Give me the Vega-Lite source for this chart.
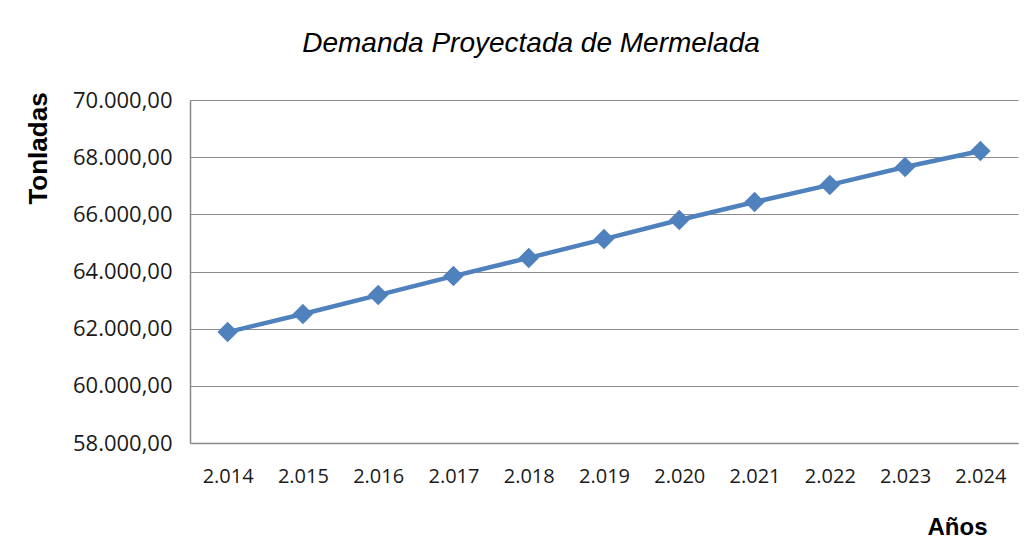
{
  "$schema": "https://vega.github.io/schema/vega-lite/v6.json",
  "width": 828,
  "height": 343,
  "autosize": "none",
  "padding": {"left": 190, "top": 100, "right": 15, "bottom": 111},
  "background": "white",
  "config": {
    "locale": {"number": {"decimal": ",", "thousands": ".", "grouping": [3], "currency": ["$", ""]}},
    "view": {"stroke": null}
  },
  "title": {
    "text": "Demanda Proyectada de Mermelada",
    "font": "Liberation Sans",
    "fontSize": 28,
    "fontStyle": "italic",
    "fontWeight": "normal",
    "color": "#000000",
    "anchor": "middle",
    "frame": "group",
    "dx": -73,
    "offset": 31
  },
  "data": {
    "values": [
      {"anio": "2.014", "toneladas": 61880},
      {"anio": "2.015", "toneladas": 62515},
      {"anio": "2.016", "toneladas": 63175},
      {"anio": "2.017", "toneladas": 63840},
      {"anio": "2.018", "toneladas": 64475},
      {"anio": "2.019", "toneladas": 65135},
      {"anio": "2.020", "toneladas": 65800},
      {"anio": "2.021", "toneladas": 66430},
      {"anio": "2.022", "toneladas": 67030},
      {"anio": "2.023", "toneladas": 67655},
      {"anio": "2.024", "toneladas": 68215}
    ]
  },
  "encoding": {
    "x": {
      "field": "anio",
      "type": "ordinal",
      "sort": null,
      "scale": {"paddingInner": 0, "paddingOuter": 0.5},
      "axis": {
        "title": "Años",
        "titleFont": "Liberation Sans",
        "titleFontSize": 24,
        "titleFontWeight": "bold",
        "titleColor": "#000000",
        "titleAnchor": null,
        "titleAlign": "center",
        "titleBaseline": "middle",
        "titleX": 767,
        "titleY": 84,
        "labelAngle": 0,
        "labelFont": "Open Sans",
        "labelFontSize": 20,
        "labelColor": "#1a1a1a",
        "labelPadding": 23,
        "ticks": false,
        "domainColor": "#888888",
        "domainWidth": 1.5,
        "grid": false
      }
    },
    "y": {
      "field": "toneladas",
      "type": "quantitative",
      "scale": {"domain": [58000, 70000], "nice": false, "zero": false},
      "axis": {
        "title": "Tonladas",
        "titleFont": "Liberation Sans",
        "titleFontSize": 26,
        "titleFontWeight": "bold",
        "titleColor": "#000000",
        "titleAnchor": null,
        "titleAngle": -90,
        "titleAlign": "center",
        "titleBaseline": "middle",
        "titleX": -152,
        "titleY": 48,
        "values": [58000, 60000, 62000, 64000, 66000, 68000, 70000],
        "format": ",.2f",
        "labelFont": "Open Sans",
        "labelFontSize": 22,
        "labelColor": "#1a1a1a",
        "labelPadding": 18,
        "ticks": false,
        "domainColor": "#888888",
        "domainWidth": 1.5,
        "grid": true,
        "gridColor": "#8c8c8c",
        "gridWidth": 1.2
      }
    }
  },
  "layer": [
    {"mark": {"type": "line", "color": "#4f81bd", "strokeWidth": 4.5}},
    {"mark": {"type": "point", "shape": "diamond", "filled": true, "opacity": 1, "color": "#4f81bd", "size": 420}}
  ]
}
